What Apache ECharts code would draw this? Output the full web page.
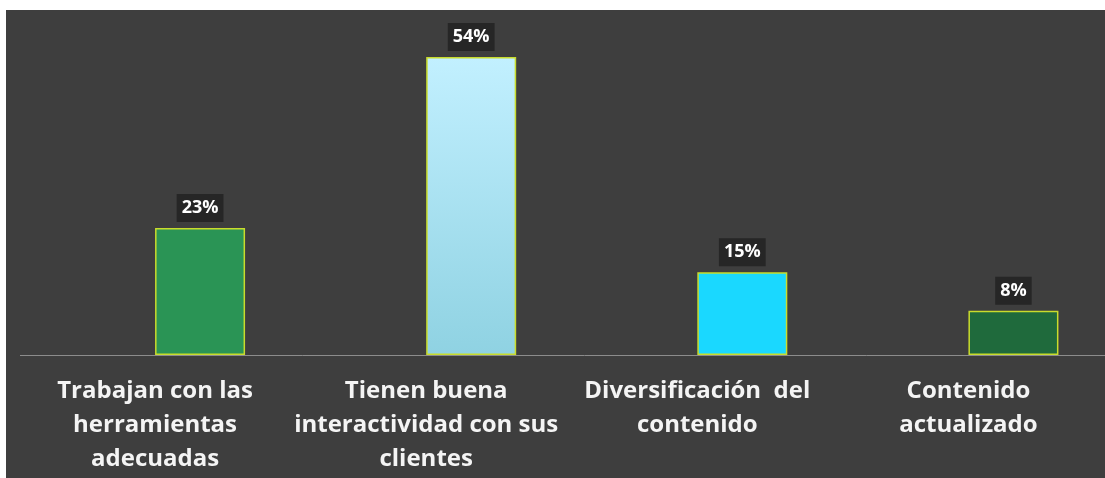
<!DOCTYPE html>
<html>
<head>
<meta charset="utf-8">
<script src="https://cdn.jsdelivr.net/npm/echarts@6/dist/echarts.min.js"></script>
<style>
  html, body { margin: 0; padding: 0; background: #ffffff; }
  #panel { position: absolute; left: 6px; top: 10px; width: 1099px; height: 468px; overflow: hidden; background: #3e3e3e; }
  #chart { position: absolute; left: 0; top: 0; width: 1143px; height: 468px; }
</style>
</head>
<body>
<div id="panel"><div id="chart"></div></div>
<script>
// Survey results, percent of respondents per statement
const categories = [
  'Trabajan con las\nherramientas\nadecuadas',
  'Tienen buena\ninteractividad con sus\nclientes',
  'Diversificación  del\ncontenido',
  'Contenido\nactualizado'
];
const values = [23, 54, 15, 8];
const barColors = [
  '#2a9455',
  { type: 'linear', x: 0, y: 0, x2: 0, y2: 1,
    colorStops: [{ offset: 0, color: '#c2f0ff' }, { offset: 1, color: '#8fd2e2' }] },
  '#1ad8ff',
  '#1f6a3c'
];

const chart = echarts.init(document.getElementById('chart'));
const FONT = '"Open Sans", "Noto Sans", sans-serif';

chart.setOption({
  backgroundColor: '#3e3e3e',
  animation: false,
  grid: { left: 58.5, right: 0, top: 14, bottom: 123, containLabel: false },
  xAxis: {
    type: 'category',
    data: categories,
    axisLine: { show: false },
    axisTick: { show: false },
    axisLabel: {
      color: '#f4f4f4',
      fontFamily: FONT,
      fontWeight: 'bold',
      fontSize: 24,
      lineHeight: 34,
      margin: 19,
      padding: [0, 90, 0, 0],
      interval: 0
    }
  },
  yAxis: {
    type: 'value',
    min: 0,
    max: 60,
    show: false,
    splitLine: { show: false }
  },
  series: [{
    type: 'bar',
    barWidth: 90,
    data: values.map((v, i) => ({ value: v, itemStyle: { color: barColors[i] } })),
    itemStyle: { borderColor: '#c9dc2c', borderWidth: 1.5 },
    label: {
      show: true,
      position: 'top',
      distance: 6,
      formatter: p => p.value + '%',
      color: '#ffffff',
      fontFamily: FONT,
      fontWeight: 'bold',
      fontSize: 18,
      lineHeight: 20,
      backgroundColor: '#262626',
      padding: [4, 5, 4, 5]
    }
  }]
});

// Baseline under the bars, running across the full panel width
const baseY = Math.round(chart.convertToPixel({ yAxisIndex: 0 }, 0)) + 0.5;
chart.setOption({
  graphic: [{
    type: 'line',
    shape: { x1: 14, y1: baseY, x2: 1143, y2: baseY },
    style: { stroke: '#8c8c8c', lineWidth: 1 },
    z: 0
  }]
});
</script>
</body>
</html>
